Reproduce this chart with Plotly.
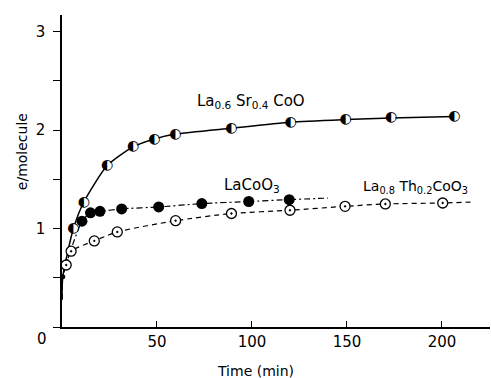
import plotly.graph_objects as go

# Data (time in min, electrons per molecule)
sr_time = [6, 11.5, 23.8, 37.4, 48.6, 59.7, 89.2, 120.4, 149.3, 173.2, 206.5]
sr_e = [1.0, 1.27, 1.64, 1.83, 1.91, 1.96, 2.02, 2.08, 2.107, 2.124, 2.14]

laco_time = [10.5, 15, 20, 31.4, 50.9, 73.6, 98.3, 119.6]
laco_e = [1.075, 1.16, 1.175, 1.20, 1.22, 1.254, 1.275, 1.294]

th_time = [2.2, 4.8, 17, 29.1, 59.8, 89.2, 120, 149, 170.2, 200.4]
th_e = [0.63, 0.77, 0.875, 0.966, 1.08, 1.153, 1.186, 1.226, 1.25, 1.26]

# curve start (common) and curve ends beyond the last points
start_time = [0, 0.4]
start_e = [0.28, 0.51]
laco_end = (140, 1.31)
th_end = (216, 1.27)

xtick_vals = [50, 100, 150, 200]
ytick_vals = [0, 0.5, 1, 1.5, 2, 2.5, 3]
ytick_text = ["", "", "1", "", "2", "", "3"]

FONT = "DejaVu Sans"
fig = go.Figure()

# curves
fig.add_trace(go.Scatter(x=start_time + sr_time, y=start_e + sr_e, mode="lines",
                         line=dict(color="black", width=1.5, shape="spline", smoothing=0.6),
                         hoverinfo="skip"))
fig.add_trace(go.Scatter(x=start_time + laco_time + [laco_end[0]], y=start_e + laco_e + [laco_end[1]],
                         mode="lines",
                         line=dict(color="black", width=1.2, dash="6px,3px,2px,3px", shape="spline", smoothing=0.6),
                         hoverinfo="skip"))
fig.add_trace(go.Scatter(x=start_time + th_time + [th_end[0]], y=start_e + th_e + [th_end[1]],
                         mode="lines",
                         line=dict(color="black", width=1.2, dash="5px,4px", shape="spline", smoothing=0.6),
                         hoverinfo="skip"))

# origin dot
fig.add_trace(go.Scatter(x=[start_time[1]], y=[start_e[1]], mode="markers",
                         marker=dict(size=5, color="black"), hoverinfo="skip"))

# markers
fig.add_trace(go.Scatter(x=laco_time, y=laco_e, mode="markers",
                         marker=dict(symbol="circle", size=11, color="black"), hoverinfo="skip"))
fig.add_trace(go.Scatter(x=th_time, y=th_e, mode="markers",
                         marker=dict(symbol="circle-dot", size=10, color="white",
                                     line=dict(color="black", width=1.3)), hoverinfo="skip"))
fig.add_trace(go.Scatter(x=sr_time, y=sr_e, mode="markers",
                         marker=dict(symbol="circle", size=9, color="white",
                                     line=dict(width=0)), hoverinfo="skip"))
# left half filled: draw with text glyph
fig.add_trace(go.Scatter(x=sr_time, y=sr_e, mode="text", text=["◐"] * len(sr_time),
                         textposition="middle center",
                         textfont=dict(family="DejaVu Sans", size=14, color="black"), hoverinfo="skip"))

fig.update_layout(
    width=491, height=378,
    margin=dict(l=62, r=1, t=15, b=51),
    plot_bgcolor="white", paper_bgcolor="white",
    showlegend=False,
    font=dict(family=FONT, color="black"),
    xaxis=dict(range=[0, 225.3], showgrid=False, zeroline=False, showline=True,
               linecolor="black", linewidth=1.5, ticks="inside", ticklen=6, tickwidth=1,
               tickcolor="black", tickvals=xtick_vals, tickfont=dict(size=15, family=FONT),
               ticklabelstandoff=0),
    yaxis=dict(range=[0, 3.17], showgrid=False, zeroline=False, showline=True,
               linecolor="black", linewidth=1.5, ticks="outside", ticklen=7, tickwidth=1,
               tickcolor="black", tickvals=ytick_vals, ticktext=ytick_text,
               tickfont=dict(size=15, family=FONT), ticklabelstandoff=5),
    annotations=[
        dict(x=0, y=0, xref="x", yref="y", text="0", showarrow=False, xshift=-20, yshift=-12,
             font=dict(size=15, family=FONT)),
        dict(x=0.453, y=-0.109, xref="paper", yref="paper", text="Time (min)", showarrow=False,
             yanchor="top", xanchor="center", font=dict(size=14, family=FONT)),
        dict(x=-0.093, y=0.561, xref="paper", yref="paper", text="e/molecule", showarrow=False,
             textangle=-90, xanchor="center", yanchor="middle", font=dict(size=14, family=FONT)),
        dict(x=99.5, y=2.29, xref="x", yref="y", showarrow=False,
             text="La<sub>0.6</sub> Sr<sub>0.4</sub> CoO", font=dict(size=15, family=FONT)),
        dict(x=100, y=1.44, xref="x", yref="y", showarrow=False,
             text="LaCoO<sub>3</sub>", font=dict(size=15, family=FONT)),
        dict(x=186.3, y=1.42, xref="x", yref="y", showarrow=False,
             text="La<sub>0.8</sub> Th<sub>0.2</sub>CoO<sub>3</sub>", font=dict(size=14, family=FONT)),
    ],
)

fig.write_html("out.html", config={"displayModeBar": False},
               post_script="document.body.style.margin='0';")
